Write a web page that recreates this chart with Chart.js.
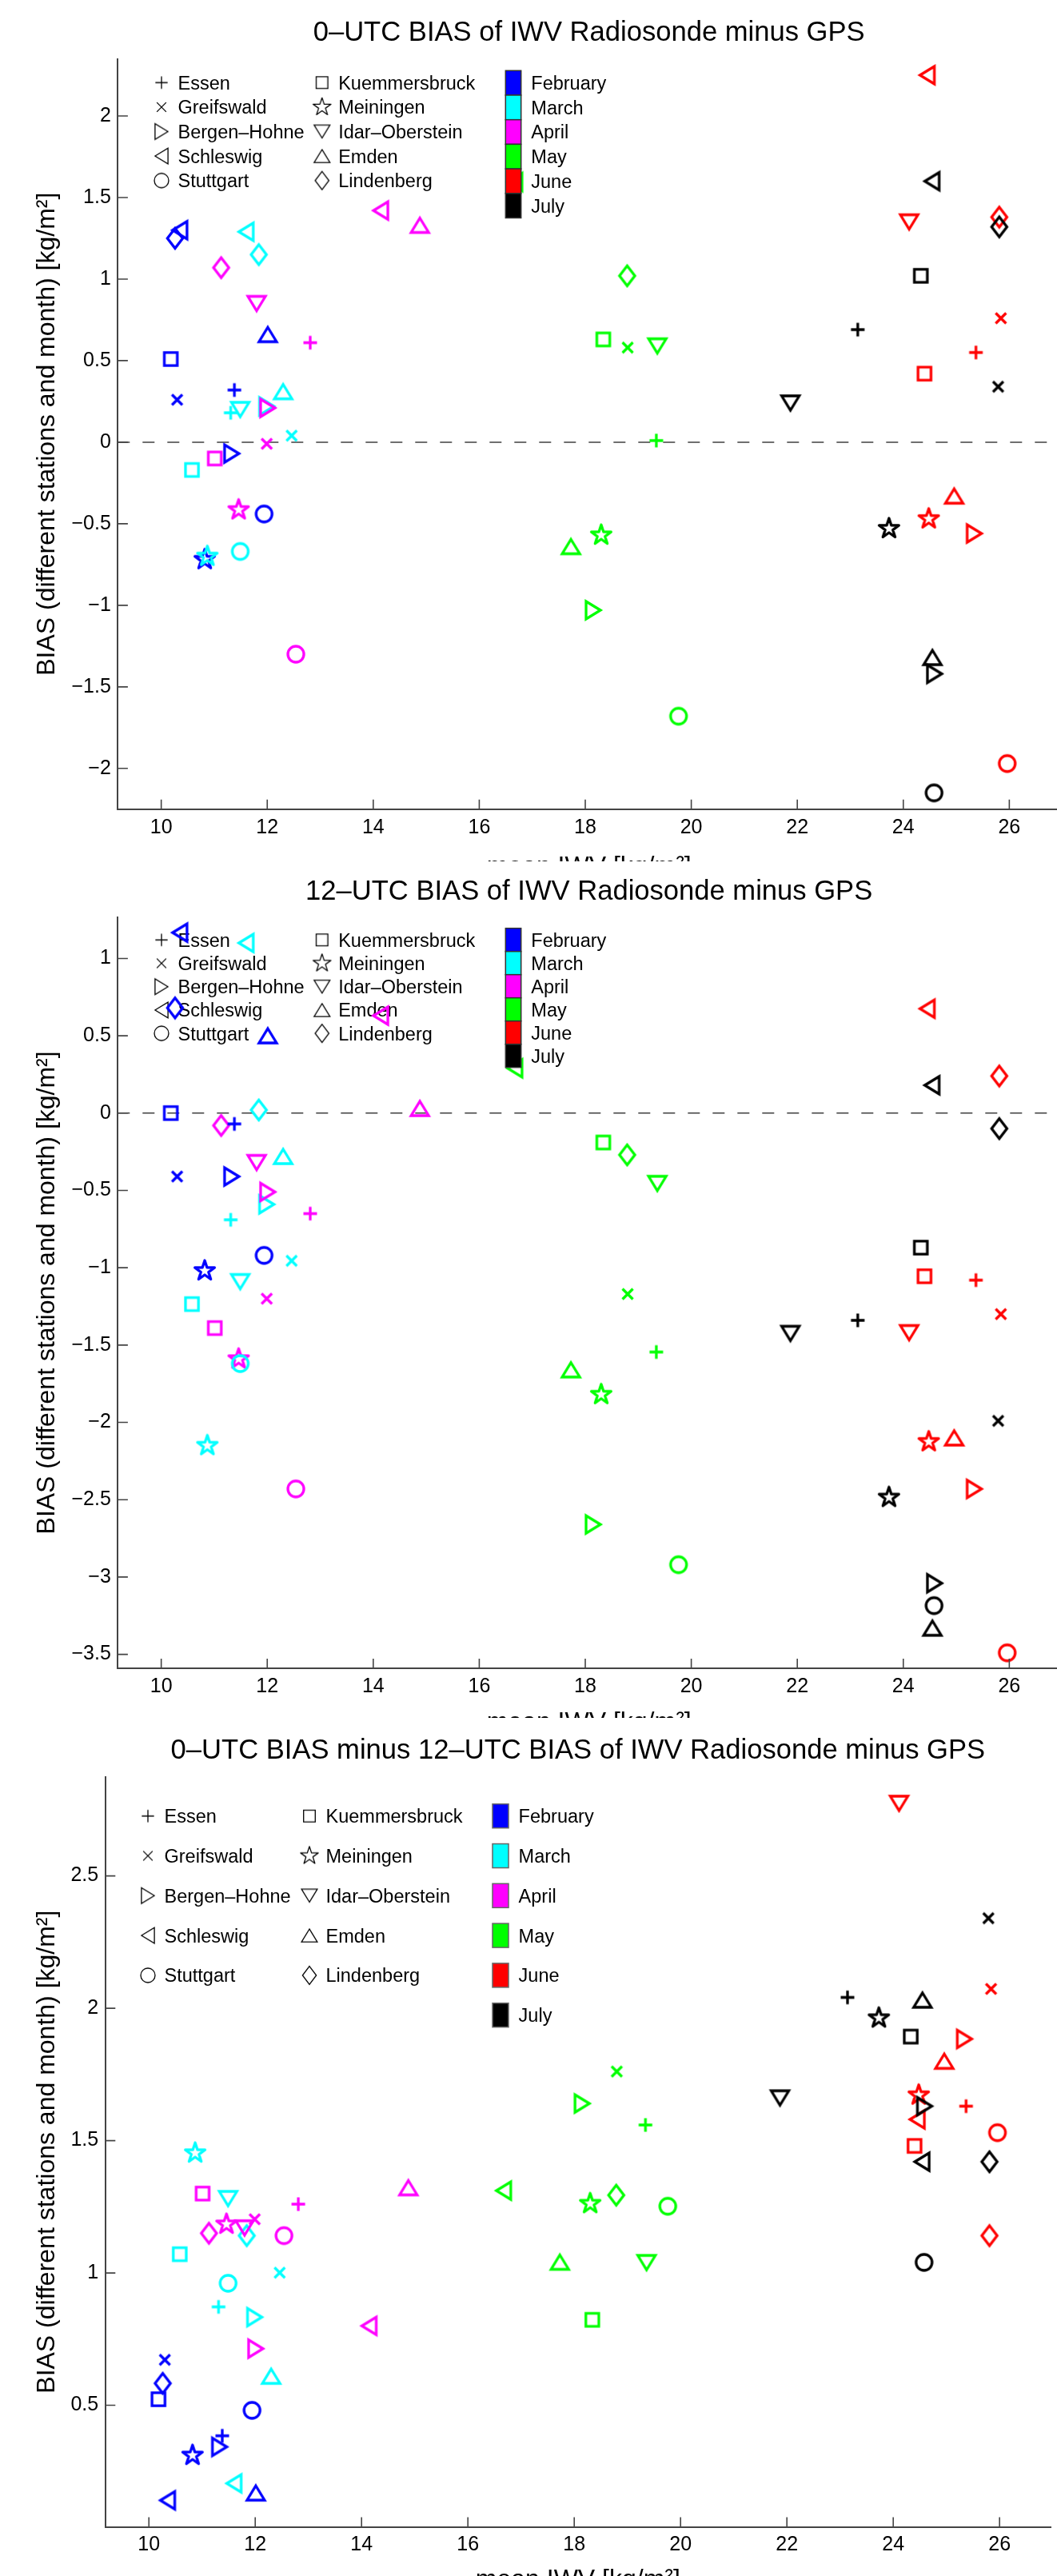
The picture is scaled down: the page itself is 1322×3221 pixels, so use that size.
<!DOCTYPE html>
<html>
<head>
<meta charset="utf-8">
<title>IWV bias Radiosonde minus GPS</title>
<script src="https://cdn.jsdelivr.net/npm/chart.js@4.4.1/dist/chart.umd.min.js"></script>
<style>
  html, body { margin: 0; padding: 0; background: #fff; overflow: hidden; }
  .panel { position: absolute; left: 0; width: 1322px; overflow: hidden; background: #fff; }
  .panel canvas { position: absolute; left: 0; top: 0; }
</style>
</head>
<body>
<div class="panel" style="top:0px;height:1077px"><canvas id="c1"></canvas></div>
<div class="panel" style="top:1077px;height:1071px"><canvas id="c2"></canvas></div>
<div class="panel" style="top:2148px;height:1073px"><canvas id="c3"></canvas></div>
<script>
const FONT = '"Liberation Sans", Arial, Helvetica, sans-serif';

// --- data (rows = months, columns = stations) ---
const months = ["February", "March", "April", "May", "June", "July"];
const stations = ["Essen", "Greifswald", "Bergen–Hohne", "Schleswig", "Stuttgart",
  "Kuemmersbruck", "Meiningen", "Idar–Oberstein", "Emden", "Lindenberg"];

// mean IWV [kg/m2]
const meanIwv = [
  [11.38, 10.30, 11.33, 10.35, 11.94, 10.18, 10.82, null, 12.01, 10.26],
  [11.31, 12.46, 11.99, 11.60, 11.49, 10.58, 10.87, 11.49, 12.30, 11.84],
  [12.81, 11.99, 12.01, 14.14, 12.54, 11.01, 11.46, 11.80, 14.88, 11.13],
  [19.34, 18.80, 18.15, 16.67, 19.76, 18.34, 18.30, 19.36, 17.73, 18.79],
  [25.37, 25.84, 25.34, 24.45, 25.96, 24.40, 24.48, 24.11, 24.96, 25.81],
  [23.14, 25.79, 24.59, 24.54, 24.58, 24.33, 23.73, 21.87, 24.55, 25.81],
];

// 0-UTC bias
const bias0utc = [
  [0.32, 0.26, -0.07, 1.30, -0.44, 0.51, -0.72, null, 0.66, 1.25],
  [0.18, 0.04, 0.22, 1.29, -0.67, -0.17, -0.70, 0.20, 0.31, 1.15],
  [0.61, -0.01, 0.21, 1.42, -1.30, -0.10, -0.415, 0.85, 1.33, 1.07],
  [0.01, 0.58, -1.03, 1.595, -1.68, 0.63, -0.57, 0.59, -0.64, 1.02],
  [0.55, 0.76, -0.56, 2.25, -1.97, 0.42, -0.47, 1.35, -0.33, 1.38],
  [0.69, 0.34, -1.42, 1.60, -2.15, 1.02, -0.53, 0.24, -1.32, 1.32],
];

// 12-UTC bias
const bias12utc = [
  [-0.07, -0.41, -0.41, 1.167, -0.92, 0.0, -1.02, null, 0.50, 0.68],
  [-0.69, -0.955, -0.59, 1.10, -1.62, -1.235, -2.15, -1.09, -0.28, 0.02],
  [-0.65, -1.20, -0.51, 0.63, -2.43, -1.39, -1.59, -0.32, 0.03, -0.08],
  [-1.545, -1.17, -2.66, 0.29, -2.92, -0.19, -1.82, -0.455, -1.66, -0.27],
  [-1.08, -1.30, -2.43, 0.675, -3.49, -1.055, -2.125, -1.42, -2.10, 0.24],
  [-1.34, -1.99, -3.04, 0.18, -3.185, -0.87, -2.485, -1.425, -3.33, -0.10],
];

// 0-UTC bias minus 12-UTC bias
const biasDiff = [
  [0.385, 0.672, 0.343, 0.141, 0.481, 0.523, 0.311, null, 0.169, 0.583],
  [0.872, 1.001, 0.833, 0.205, 0.961, 1.071, 1.453, 1.281, 0.610, 1.141],
  [1.26, 1.203, 0.714, 0.80, 1.141, 1.30, 1.184, 1.17, 1.322, 1.15],
  [1.559, 1.761, 1.64, 1.311, 1.252, 0.823, 1.262, 1.039, 1.041, 1.294],
  [1.63, 2.073, 1.884, 1.58, 1.53, 1.48, 1.672, 2.774, 1.80, 1.141],
  [2.041, 2.34, 1.63, 1.42, 1.04, 1.893, 1.963, 1.661, 2.031, 1.42],
];

const xTickValues = [10, 12, 14, 16, 18, 20, 22, 24, 26];
const yTicks0utc = [-2, -1.5, -1, -0.5, 0, 0.5, 1, 1.5, 2];
const yTicks12utc = [-3.5, -3, -2.5, -2, -1.5, -1, -0.5, 0, 0.5, 1];
const yTicksDiff = [0.5, 1, 1.5, 2, 2.5];

// --- styles ---
const monthColors = ["#0000ff", "#00ffff", "#ff00ff", "#00ff00", "#ff0000", "#000000"];
const stationMarkers = ["plus", "cross", "triRight", "triLeft", "circle",
  "square", "star", "triDown", "triUp", "diamond"];
const xLimits = [9.18, 26.96];
const CANVAS_H = 1110;

function markerPath(g, shape, k) {
  const a = 9 * k, b = 11 * k;
  g.beginPath();
  switch (shape) {
    case "plus":
      g.moveTo(-8.5 * k, 0); g.lineTo(8.5 * k, 0);
      g.moveTo(0, -8.5 * k); g.lineTo(0, 8.5 * k);
      break;
    case "cross":
      g.moveTo(-6.5 * k, -6.5 * k); g.lineTo(6.5 * k, 6.5 * k);
      g.moveTo(-6.5 * k, 6.5 * k); g.lineTo(6.5 * k, -6.5 * k);
      break;
    case "circle":
      g.arc(0, 0, 10 * k, 0, Math.PI * 2);
      break;
    case "square":
      g.rect(-8.1 * k, -8.1 * k, 16.2 * k, 16.2 * k);
      break;
    case "diamond":
      g.moveTo(0, -12.6 * k); g.lineTo(9.6 * k, 0); g.lineTo(0, 12.6 * k); g.lineTo(-9.6 * k, 0);
      g.closePath();
      break;
    case "star":
      for (let i = 0; i < 10; i++) {
        const ang = -Math.PI / 2 + i * Math.PI / 5;
        const r = (i % 2 ? 5 : 13) * k;
        if (i === 0) g.moveTo(r * Math.cos(ang), r * Math.sin(ang));
        else g.lineTo(r * Math.cos(ang), r * Math.sin(ang));
      }
      g.closePath();
      break;
    case "triUp":
      g.moveTo(0, -a); g.lineTo(b, a); g.lineTo(-b, a); g.closePath();
      break;
    case "triDown":
      g.moveTo(0, a); g.lineTo(b, -a); g.lineTo(-b, -a); g.closePath();
      break;
    case "triRight":
      g.moveTo(a, 0); g.lineTo(-a, -b); g.lineTo(-a, b); g.closePath();
      break;
    case "triLeft":
      g.moveTo(-a, 0); g.lineTo(a, -b); g.lineTo(a, b); g.closePath();
      break;
  }
  g.stroke();
}

function markerImage(shape, color, lw, k) {
  const c = document.createElement("canvas");
  c.width = 44;
  c.height = 44;
  const g = c.getContext("2d");
  g.translate(22, 22);
  g.strokeStyle = color;
  g.lineWidth = lw;
  g.lineJoin = shape === "star" ? "round" : "miter";
  markerPath(g, shape, k);
  return c;
}

const plotMarkers = {};
const legendMarkers = {};
stationMarkers.forEach((shape) => {
  plotMarkers[shape] = monthColors.map((col) => markerImage(shape, col, 3.3, 1));
  legendMarkers[shape] = markerImage(shape, "#000", 1.3, 0.9);
});

const fmtTick = (v) => {
  const r = Math.round(v * 10) / 10;
  return r < 0 ? "−" + Math.abs(r) : String(r);
};

const decorPlugin = {
  id: "decor",
  beforeDatasetsDraw(chart, args, o) {
    const ctx = chart.ctx;
    ctx.save();
    ctx.font = "23.5px " + FONT;
    ctx.fillStyle = "#000";
    ctx.textAlign = "left";
    ctx.textBaseline = "alphabetic";
    stations.forEach((name, s) => {
      const y = o.legTop + (s % 5) * o.legStep;
      const mx = s < 5 ? o.col1 : o.col2;
      ctx.drawImage(legendMarkers[stationMarkers[s]], mx - 22, y - 22);
      ctx.fillText(name, mx + 20.5, y + 8.4);
    });
    ctx.restore();
  },
  afterDatasetsDraw(chart, args, o) {
    const ctx = chart.ctx;
    ctx.save();
    months.forEach((m, j) => {
      const top = o.swTop + j * o.swStep;
      ctx.fillStyle = monthColors[j];
      ctx.fillRect(o.swX, top, o.swW, o.swH);
      ctx.strokeStyle = o.swBorder;
      ctx.lineWidth = 1.5;
      ctx.strokeRect(o.swX, top, o.swW, o.swH);
      ctx.fillStyle = "#000";
      ctx.font = "23.5px " + FONT;
      ctx.textBaseline = "alphabetic";
      ctx.fillText(m, o.swX + o.swW + 12.6, top + o.swH / 2 + 8.4);
    });
    ctx.restore();
  },
  afterDraw(chart, args, o) {
    const ctx = chart.ctx;
    const area = chart.chartArea;
    const xs = chart.scales.x;
    const ys = chart.scales.y;
    ctx.save();
    // inward tick marks
    ctx.strokeStyle = "#444";
    ctx.lineWidth = 1.6;
    ctx.beginPath();
    xs.ticks.forEach((t) => {
      const px = xs.getPixelForValue(t.value);
      ctx.moveTo(px, area.bottom);
      ctx.lineTo(px, area.bottom - 12);
    });
    ys.ticks.forEach((t) => {
      const py = ys.getPixelForValue(t.value);
      ctx.moveTo(area.left, py);
      ctx.lineTo(area.left + 12.6, py);
    });
    ctx.stroke();

    const cx = (area.left + area.right) / 2;
    const cy = (area.top + area.bottom) / 2;
    ctx.fillStyle = "#000";
    ctx.textAlign = "center";
    ctx.textBaseline = "alphabetic";
    ctx.font = "34.6px " + FONT;
    ctx.fillText(o.title, cx, o.titleBase);
    ctx.font = "32px " + FONT;
    ctx.fillText("mean IWV [kg/m²]", cx, o.xlabBase);
    ctx.translate(68, cy);
    ctx.rotate(-Math.PI / 2);
    ctx.fillText("BIAS (different stations and month) [kg/m²]", 0, 0);
    ctx.restore();
  },
};

const panels = [
  { id: "c1", bias: bias0utc, yMin: -2.25, yMax: 2.35, yTicks: yTicks0utc, zeroLine: true,
    layout: { title: "0–UTC BIAS of IWV Radiosonde minus GPS", width: 1339, left: 147.3, top: 73.6, bottom: 1011.8,
      titleBase: 51.2, xlabBase: 1093, legTop: 103.3, legStep: 30.6, col1: 202, col2: 402.7,
      swX: 632.3, swW: 19.4, swTop: 88.3, swH: 30.7, swStep: 30.7, swBorder: "#333" } },
  { id: "c2", bias: bias12utc, yMin: -3.59, yMax: 1.267, yTicks: yTicks12utc, zeroLine: true,
    layout: { title: "12–UTC BIAS of IWV Radiosonde minus GPS", width: 1339, left: 147.3, top: 69.8, bottom: 1009,
      titleBase: 48.2, xlabBase: 1086, legTop: 98.3, legStep: 29.2, col1: 202, col2: 402.7,
      swX: 632.3, swW: 19.4, swTop: 83.7, swH: 29, swStep: 29, swBorder: "#333" } },
  { id: "c3", bias: biasDiff, yMin: 0.041, yMax: 2.874, yTicks: yTicksDiff, zeroLine: false,
    layout: { title: "0–UTC BIAS minus 12–UTC BIAS of IWV Radiosonde minus GPS", width: 1327, left: 131.7, top: 73.8,
      bottom: 1011.5, titleBase: 51.3, xlabBase: 1086.6, legTop: 122.7, legStep: 49.8, col1: 185, col2: 387,
      swX: 616, swW: 20, swTop: 107.7, swH: 30, swStep: 49.8, swBorder: "#666" } },
];

panels.forEach((p) => {
  const canvas = document.getElementById(p.id);
  canvas.width = p.layout.width;
  canvas.height = CANVAS_H;

  const datasets = stations.map((name, s) => ({
    label: name,
    data: months.map((m, i) => ({ x: meanIwv[i][s], y: p.bias[i][s] })),
    pointStyle: (c) => plotMarkers[stationMarkers[s]][c.dataIndex],
    pointRadius: 12,
    clip: false,
  }));
  if (p.zeroLine) {
    datasets.push({
      label: "zero",
      data: [{ x: xLimits[0], y: 0 }, { x: xLimits[1], y: 0 }],
      showLine: true,
      borderColor: "#404040",
      borderWidth: 1.5,
      borderDash: [15, 16],
      pointRadius: 0,
    });
  }

  new Chart(canvas, {
    type: "scatter",
    data: { datasets },
    options: {
      responsive: false,
      animation: false,
      events: [],
      layout: { padding: { top: p.layout.top, left: 0, right: 0, bottom: 0 } },
      scales: {
        x: {
          type: "linear",
          min: xLimits[0],
          max: xLimits[1],
          afterFit: (sc) => { sc.height = CANVAS_H - p.layout.bottom; },
          afterBuildTicks: (sc) => { sc.ticks = xTickValues.map((v) => ({ value: v })); },
          ticks: { font: { family: FONT, size: 25 }, color: "#000", padding: 8, maxRotation: 0, autoSkip: false, callback: fmtTick },
          grid: { display: false, drawTicks: false },
          border: { display: true, color: "#444", width: 2 },
        },
        y: {
          type: "linear",
          min: p.yMin,
          max: p.yMax,
          afterFit: (sc) => { sc.width = p.layout.left; },
          afterBuildTicks: (sc) => { sc.ticks = p.yTicks.map((v) => ({ value: v })); },
          ticks: { font: { family: FONT, size: 25 }, color: "#000", padding: 8.5, autoSkip: false, callback: fmtTick },
          grid: { display: false, drawTicks: false },
          border: { display: true, color: "#444", width: 2 },
        },
      },
      plugins: {
        legend: { display: false },
        tooltip: { enabled: false },
        decor: p.layout,
      },
    },
    plugins: [decorPlugin],
  });
});
</script>
</body>
</html>
